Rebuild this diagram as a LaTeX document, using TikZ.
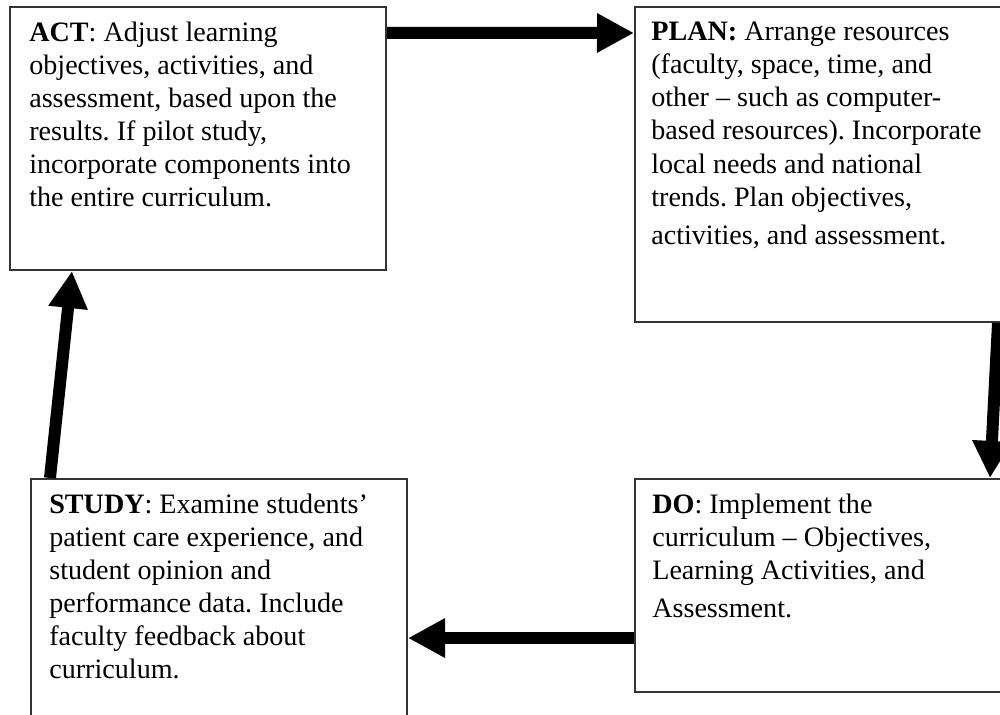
\documentclass[tikz,border=0pt]{standalone}
\usepackage{fontspec}
\setmainfont{Liberation Serif}
\usetikzlibrary{arrows.meta}
\frenchspacing

\begin{document}
\begin{tikzpicture}
[x=0.02cm,y=-0.02cm,%
  boxDecorate/.style={shape=rectangle,draw=black!80,line width=1.2pt,inner sep=0pt},
  textDecorate/.style={anchor=north west,inner sep=0pt,align=left,
    font=\fontsize{16}{18.8}\selectfont},
  arrowDecorate/.style={line width=0.24cm,-{Triangle[length=0.74cm,width=0.74cm]}}]
%%
\useasboundingbox (0,0) rectangle (1000,715);
\clip (0,0) rectangle (1000,715);
%%
%%%%%%%%%%%%%%%%%%%%%%%%%%%%%%%%%%%%%%%%%%%%%%%%%%%%%%%%%%%%%%%%%%%%%%%%%%%
%%
%% boxes of the cycle
\node (act) at (198,138.5) [boxDecorate,minimum width=7.52cm,minimum height=5.26cm] {};
\node (plan) at (822.5,164.5) [boxDecorate,minimum width=7.5cm,minimum height=6.3cm] {};
\node (do) at (822.5,585.5) [boxDecorate,minimum width=7.5cm,minimum height=4.26cm] {};
\node (study) at (219,604.5) [boxDecorate,minimum width=7.52cm,minimum height=5.02cm] {};
%%
%% texts in the boxes
\node (acttext) at ([xshift=0.4cm,yshift=-0.32cm]act.north west) [textDecorate]
  {\textbf{ACT}: Adjust learning\\
   objectives, activities, and\\
   assessment, based upon the\\
   results. If pilot study,\\
   incorporate components into\\
   the entire curriculum.};
\node (plantext) at ([xshift=0.34cm,yshift=-0.32cm]plan.north west) [textDecorate]
  {\textbf{PLAN:} Arrange resources\\
   (faculty, space, time, and\\
   other – such as computer-\\
   based resources). Incorporate\\
   local needs and national\\
   trends. Plan objectives,\\[0.1cm]
   activities, and assessment.};
\node (dotext) at ([xshift=0.36cm,yshift=-0.32cm]do.north west) [textDecorate]
  {\textbf{DO}: Implement the\\
   curriculum – Objectives,\\
   Learning Activities, and\\[0.1cm]
   Assessment.};
\node (studytext) at ([xshift=0.38cm,yshift=-0.32cm]study.north west) [textDecorate]
  {\textbf{STUDY}: Examine students’\\
   patient care experience, and\\
   student opinion and\\
   performance data. Include\\
   faculty feedback about\\
   curriculum.};
%%
%%%%%%%%%%%%%%%%%%%%%%%%%%%%%%%%%%%%%%%%%%%%%%%%%%%%%%%%%%%%%%%%%%%%%%%%%%%
%%
%% arrows round the cycle
\coordinate (dotail) at ([yshift=1.1cm]do.south west);
\draw[arrowDecorate] ([yshift=-0.54cm]act.north east) -- ([yshift=-0.54cm]plan.north west);
\draw[arrowDecorate] ([xshift=-0.26cm]plan.south east) -- ([xshift=-0.42cm]do.north east);
\draw[arrowDecorate] (dotail) -- (dotail -| study.east);
\draw[arrowDecorate] ([xshift=0.4cm]study.north west) -- ([xshift=1.26cm]act.south west);
\end{tikzpicture}
\end{document}
